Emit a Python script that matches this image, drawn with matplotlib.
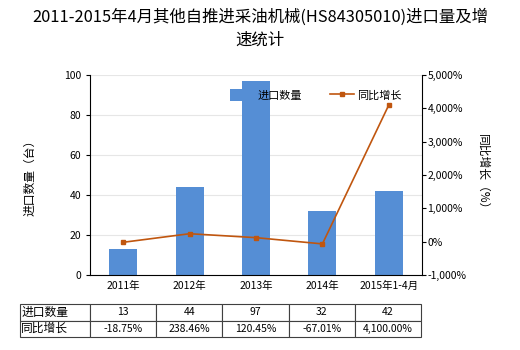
import numpy as np
import matplotlib
matplotlib.use("Agg")
import matplotlib.pyplot as plt
from matplotlib.ticker import FuncFormatter

plt.rcParams['font.family'] = ['Noto Sans CJK SC', 'DejaVu Sans']

categories = ["2011年", "2012年", "2013年", "2014年", "2015年1-4月"]
qty = [13, 44, 97, 32, 42]
growth = [-18.75, 238.46, 120.45, -67.01, 4100.00]
qty_labels = ["13", "44", "97", "32", "42"]
growth_labels = ["-18.75%", "238.46%", "120.45%", "-67.01%", "4,100.00%"]

bar_color = "#558ed5"
line_color = "#c0560f"

fig = plt.figure(figsize=(5.2, 3.5), dpi=100)
ax = fig.add_axes([90/520, 1 - 275/350, 332/520, 200/350])
x = np.arange(len(categories))

ax.bar(x, qty, width=0.42, color=bar_color, label="进口数量", zorder=2)
ax.set_xlim(-0.5, len(categories) - 0.5)
ax.set_ylim(0, 100)
ax.set_yticks(range(0, 101, 20))
ax.set_xticks(x)
ax.set_xticklabels(categories)
ax.grid(axis="y", color="#e6e6e6", linewidth=0.8, zorder=0)
ax.tick_params(labelsize=7.5, length=3, width=0.8)
ax.tick_params(axis="x", length=0, pad=4)
for s in ["top", "right"]:
    ax.spines[s].set_visible(False)
ax.set_ylabel("进口数量（台）", fontsize=8.5, labelpad=20)

ax2 = ax.twinx()
ax2.plot(x, growth, color=line_color, marker="s", markersize=3, linewidth=1.2,
         label="同比增长", zorder=3)
ax2.set_ylim(-1000, 5000)
ax2.set_yticks(range(-1000, 5001, 1000))
ax2.yaxis.set_major_formatter(FuncFormatter(lambda v, p: f"{int(v):,}%"))
ax2.tick_params(labelsize=7.5, length=3, width=0.8, pad=1)
for s in ["top", "left", "bottom"]:
    ax2.spines[s].set_visible(False)
ax2.set_ylabel("同比增长（%）", fontsize=8.5, rotation=270, labelpad=16)

h1, l1 = ax.get_legend_handles_labels()
h2, l2 = ax2.get_legend_handles_labels()
ax2.legend(h1 + h2, l1 + l2, loc="upper center", bbox_to_anchor=(0.68, 0.98),
           ncol=2, frameon=False, fontsize=8, handlelength=2.2, handleheight=1.3,
           columnspacing=2.5, handletextpad=0.3)

fig.suptitle("2011-2015年4月其他自推进采油机械(HS84305010)进口量及增\n速统计",
             fontsize=11.8, y=0.975, linespacing=1.45)

# data table under the chart
tab_ax = fig.add_axes([20/520, 1 - 337/350, 401/520, 33/350])
tab_ax.axis("off")
cells = [["进口数量"] + qty_labels, ["同比增长"] + growth_labels]
col_w = [70/401] + [66.2/401] * 5
tbl = tab_ax.table(cellText=cells, colWidths=col_w, bbox=[0, 0, 1, 1], cellLoc="center")
tbl.auto_set_font_size(False)
tbl.set_fontsize(7.5)
for (r, c), cell in tbl.get_celld().items():
    cell.set_edgecolor("#404040")
    cell.set_linewidth(0.8)
    if c == 0:
        cell.get_text().set_ha("left")
        cell.PAD = 0.02
        cell.get_text().set_fontsize(8.5)

fig.savefig("out.png", dpi=100)
